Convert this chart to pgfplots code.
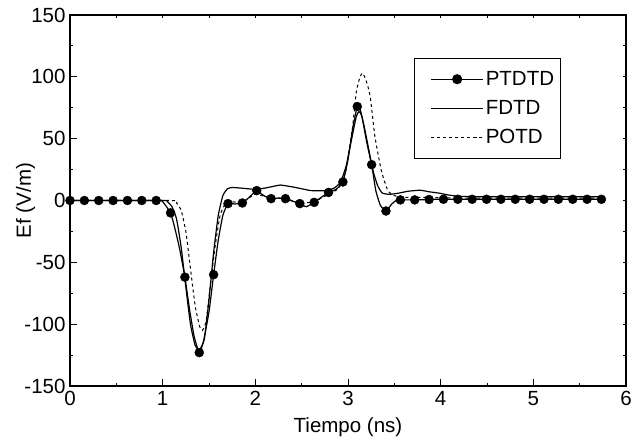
\documentclass[border=0pt]{standalone}
\usepackage{fontspec}
\setmainfont{Liberation Sans}
\usepackage{pgfplots}
\pgfplotsset{compat=1.18}

% PTDTD: sample points where the markers sit
\pgfplotstableread{
x y
0 0
0.155 0
0.31 0
0.465 0
0.62 0
0.775 0
0.93 0
1.085 -10
1.24 -62
1.395 -123
1.55 -60
1.705 -2.5
1.86 -2
2.015 8
2.17 1.5
2.325 1.5
2.48 -2.5
2.635 -1.5
2.79 6.5
2.945 15
3.10 76
3.255 29
3.41 -8.5
3.565 0.5
3.72 0.5
3.875 0.8
4.03 1
4.185 1
4.34 1
4.495 1
4.65 1
4.805 1
4.96 1
5.115 1
5.27 1
5.425 1
5.58 1
5.735 1
}\ptdtdmarks

% PTDTD: full curve
\pgfplotstableread{
x y
0 0
0.93 0
1.0 -1
1.085 -10
1.13 -22
1.18 -38
1.24 -62
1.29 -88
1.34 -110
1.395 -123
1.44 -114
1.50 -90
1.55 -60
1.60 -32
1.65 -12
1.705 -2.5
1.78 -2.8
1.86 -2
1.94 3
2.015 8
2.09 4
2.17 1.5
2.25 2
2.325 1.5
2.40 -0.5
2.48 -2.5
2.55 -5
2.635 -1.5
2.71 2.5
2.79 6.5
2.87 9
2.945 15
3.00 33
3.05 58
3.10 76
3.13 74
3.18 58
3.255 29
3.30 8
3.35 -4
3.41 -8.5
3.47 -3
3.52 0
3.565 0.5
3.72 0.5
3.875 0.8
4.03 1
5.735 1
}\ptdtdline

\pgfplotstableread{
x y
0 0
1.0 0
1.05 -1
1.10 -5
1.15 -15
1.20 -38
1.25 -70
1.30 -100
1.35 -117
1.395 -121
1.45 -112
1.50 -80
1.55 -42
1.60 -12
1.65 4
1.70 9.5
1.75 10.5
1.85 10
2.00 9
2.10 10
2.20 11.5
2.27 12.5
2.40 11
2.50 9.5
2.60 8
2.75 8
2.85 10
2.92 15
2.98 28
3.04 50
3.09 68
3.12 72
3.15 68
3.20 48
3.27 24
3.32 12
3.37 6
3.45 5
3.55 6
3.65 7.5
3.78 8.3
3.88 7
3.98 6
4.08 4.5
4.18 3.5
4.30 3.2
4.50 3
5.00 3
5.75 3
}\fdtd

\pgfplotstableread{
x y
0 0
1.10 0
1.15 -2
1.20 -8
1.25 -25
1.30 -55
1.35 -85
1.40 -102
1.43 -105
1.47 -97
1.52 -65
1.57 -35
1.62 -12
1.68 -2
1.75 -1
1.86 -1.5
2.00 5
2.17 2
2.33 1.5
2.48 -2
2.63 -1
2.79 5
2.90 10
2.98 25
3.05 60
3.09 88
3.13 100
3.16 103
3.20 96
3.24 84
3.29 52
3.36 24
3.43 8
3.50 4
3.60 2.5
3.80 2.5
4.20 2
5.75 2
}\potd

\newcommand{\chartfont}{\fontsize{20.5}{24}\selectfont}

\begin{document}
\begin{tikzpicture}
\useasboundingbox (-70pt,-51pt) rectangle (573pt,386pt);
\begin{axis}[
    at={(0,0)}, anchor=south west,
    scale only axis,
    width=556pt, height=371pt,
    xmin=0, xmax=6, ymin=-150, ymax=150,
    xtick={0,1,...,6}, ytick={-150,-100,...,150},
    minor x tick num=1, minor y tick num=1,
    xtick pos=bottom, ytick pos=left,
    tick align=inside,
    major tick length=7pt, minor tick length=3.5pt,
    every tick/.style={black, line width=0.9pt},
    axis line style={black, line width=1.2pt},
    tick label style={font=\chartfont},
    x tick label style={yshift=-2pt},
    y tick label style={xshift=-1pt},
    label style={font=\chartfont},
    /pgf/number format/assume math mode=true,
    xlabel={Tiempo (ns)}, ylabel={Ef (V/m)},
    xlabel style={at={(axis description cs:0.5,0)}, anchor=base, yshift=-46pt},
    ylabel style={at={(axis description cs:-0.08,0.5)}, anchor=center},
    clip=false,
    legend style={at={(0.619,0.884)}, anchor=north west, draw=black, line width=0.8pt,
        font=\chartfont, row sep=9.5pt, inner xsep=4pt, inner ysep=11pt,
        cells={anchor=west}},
    legend image code/.code={\path (-12pt,0pt); \draw[mark repeat=2,mark phase=2,#1] plot coordinates {(0pt,0pt) (26pt,0pt) (52pt,0pt)};},
]
\addlegendimage{black, line width=1.1pt, mark=*, mark size=4.5pt}
\addlegendentry{PTDTD}
\addplot[black, line width=1.2pt, smooth, tension=0.3, forget plot] table {\ptdtdline};
\addplot[black, only marks, mark=*, mark size=4.5pt, forget plot] table {\ptdtdmarks};
\addplot[black, line width=1.2pt, smooth, tension=0.3] table {\fdtd};
\addlegendentry{FDTD}
\addplot[black, line width=1pt, dash pattern=on 3pt off 3pt, smooth, tension=0.3] table {\potd};
\addlegendentry{POTD}
\end{axis}
\begin{axis}[
    at={(0,0)}, anchor=south west,
    scale only axis,
    width=556pt, height=371pt,
    xmin=0, xmax=6, ymin=-150, ymax=150,
    axis line style={draw=none},
    xtick={0,0.5,...,6}, ytick={-150,-125,...,150},
    xtick pos=top, ytick pos=right,
    xticklabels={}, yticklabels={},
    tick align=inside, major tick length=3pt,
    every tick/.style={black, line width=0.9pt},
]
\end{axis}
\end{tikzpicture}
\end{document}
